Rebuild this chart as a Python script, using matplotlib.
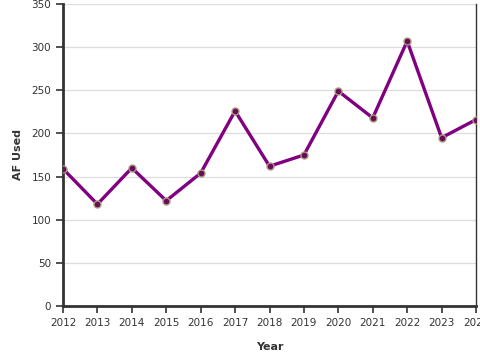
import matplotlib
matplotlib.use("Agg")
import matplotlib.pyplot as plt

years = [2012, 2013, 2014, 2015, 2016, 2017, 2018, 2019, 2020, 2021, 2022, 2023, 2024]
af_used = [159, 118, 160, 122, 154, 226, 162, 175, 249, 218, 307, 195, 216]

fig = plt.figure(figsize=(4.8, 3.6), dpi=100)
ax = fig.add_axes([63 / 480, 1 - 306 / 360, 413 / 480, 302 / 360])

ax.plot(years, af_used, color="#800080", linewidth=2.4, marker="o",
        markersize=5, markerfacecolor="#6a0a5a", markeredgecolor="#a89a7a",
        markeredgewidth=1.0, zorder=3)

ax.set_xlim(2012, 2024)
ax.set_ylim(0, 350)
ax.set_xticks(years)
ax.set_yticks(range(0, 351, 50))
ax.tick_params(axis="both", labelsize=7.5, colors="#333333", length=5, width=1.2)
ax.grid(axis="y", color="#dddddd", linewidth=0.9)
ax.set_axisbelow(True)

for side in ["left", "bottom"]:
    ax.spines[side].set_linewidth(2)
    ax.spines[side].set_color("#333333")
ax.spines["right"].set_linewidth(1.0)
ax.spines["right"].set_color("#333333")
ax.spines["top"].set_visible(False)

ax.set_xlabel("Year", fontsize=8, fontweight="bold", color="#333333", labelpad=10)
ax.set_ylabel("AF Used", fontsize=8, fontweight="bold", color="#333333", labelpad=6)

fig.savefig("out.png", dpi=100)
